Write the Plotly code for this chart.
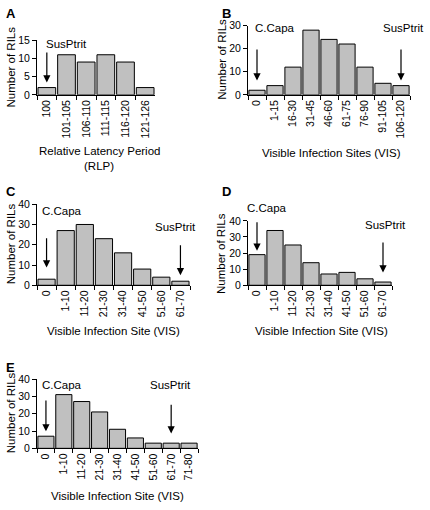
import plotly.graph_objects as go

W, H = 430, 510

# ---- data ----
a_cats = ["100", "101-105", "106-110", "111-115", "116-120", "121-126"]
a_vals = [2, 11, 9, 11, 9, 2]

b_cats = ["0", "1-15", "16-30", "31-45", "46-60", "61-75", "76-90", "91-105", "106-120"]
b_vals = [2, 4, 12, 28, 24, 22, 12, 5, 4]

c_cats = ["0", "1-10", "11-20", "21-30", "31-40", "41-50", "51-60", "61-70"]
c_vals = [3, 27, 30, 23, 16, 8, 4, 2]

d_cats = ["0", "1-10", "11-20", "21-30", "31-40", "41-50", "51-60", "61-70"]
d_vals = [19, 34, 25, 14, 7, 8, 4, 2]

e_cats = ["0", "1-10", "11-20", "21-30", "31-40", "41-50", "51-60", "61-70", "71-80"]
e_vals = [7, 31, 27, 21, 11, 6, 3, 3, 3]

FONT = "Liberation Sans, Arial, sans-serif"

def px(x):
    return x / W

def py(y):
    return 1 - y / H

panels = [
    dict(cats=a_cats, vals=a_vals, xd=(37, 155), yd=(35, 91), ymax=15, dtick=5,
         letter=("A", 4, 8), xt=["Relative Latency Period", "(RLP)"], xtp=(99, 148),
         yt=(11, 63),
         texts=[("SusPtrit", 66, 39)],
         arrows=[(0, 3.4, 12.0)]),
    dict(cats=b_cats, vals=b_vals, xd=(248, 410), yd=(20, 91), ymax=30, dtick=10,
         letter=("B", 220, 8), xt=["Visible Infection Sites (VIS)"], xtp=(331, 151),
         yt=(222, 55),
         texts=[("C.Capa", 275, 23), ("SusPtrit", 403, 23)],
         arrows=[(0, 6.2, 20.3), (8, 6.2, 20.3)]),
    dict(cats=c_cats, vals=c_vals, xd=(37, 190), yd=(203, 286), ymax=40, dtick=10,
         letter=("C", 4, 190), xt=["Visible Infection Site (VIS)"], xtp=(114, 333),
         yt=(11, 244),
         texts=[("C.Capa", 62, 210), ("SusPtrit", 175, 226)],
         arrows=[(0, 8.8, 24.0), (7, 5.0, 20.5)]),
    dict(cats=d_cats, vals=d_vals, xd=(248, 392), yd=(220, 286), ymax=40, dtick=10,
         letter=("D", 220, 190), xt=["Visible Infection Site (VIS)"], xtp=(321, 333),
         yt=(221, 253),
         texts=[("C.Capa", 267, 207), ("SusPtrit", 385, 224)],
         arrows=[(0, 21.5, 40.0), (7, 8.0, 27.5)]),
    dict(cats=e_cats, vals=e_vals, xd=(37, 198), yd=(382, 453), ymax=40, dtick=10,
         letter=("E", 4, 370), xt=["Visible Infection Site (VIS)"], xtp=(117, 502),
         yt=(11, 417),
         texts=[("C.Capa", 62, 388), ("SusPtrit", 170, 388)],
         arrows=[(0, 9.8, 28.5), (7, 8.6, 26.0)]),
]

fig = go.Figure()
annotations = []

def txt(t, x, y, size=11.5, angle=0, bold=False, anchor="center"):
    return dict(text=("<b>%s</b>" % t) if bold else t, x=px(x), y=py(y),
                xref="paper", yref="paper", xanchor=anchor, yanchor="middle",
                textangle=angle, showarrow=False,
                font=dict(family=FONT, size=size, color="black"))

for i, p in enumerate(panels):
    k = "" if i == 0 else str(i + 1)
    xa, ya = "x" + k, "y" + k
    fig.add_trace(go.Bar(
        x=p["cats"], y=p["vals"], xaxis=xa, yaxis=ya,
        marker=dict(color="#c0c0c0", line=dict(color="black", width=1)),
        showlegend=False, hoverinfo="x+y"))
    n = len(p["cats"])
    fig.layout["xaxis" + k] = dict(
        domain=[px(p["xd"][0]), px(p["xd"][1])], anchor=ya,
        type="category", range=[-0.5, n - 0.5],
        showline=True, linecolor="black", linewidth=1,
        ticks="outside", tickson="boundaries", ticklen=4, tickcolor="black",
        tickangle=-90, tickfont=dict(family=FONT, size=10.5, color="black"),
        showgrid=False, zeroline=False, fixedrange=True)
    fig.layout["yaxis" + k] = dict(
        domain=[py(p["yd"][1]), py(p["yd"][0])], anchor=xa,
        range=[0, p["ymax"]], dtick=p["dtick"],
        showline=True, linecolor="black", linewidth=1,
        ticks="outside", ticklen=4, tickcolor="black",
        tickfont=dict(family=FONT, size=10.5, color="black"),
        showgrid=False, zeroline=False, fixedrange=True)
    L, lx, ly = p["letter"]
    annotations.append(txt(L, lx, ly, size=13, bold=True, anchor="left"))
    tx, ty = p["xtp"]
    for j, line in enumerate(p["xt"]):
        annotations.append(txt(line, tx, ty + 16 * j))
    yx, yy = p["yt"]
    annotations.append(txt("Number of RILs", yx, yy, angle=-90))
    for t, x, y in p["texts"]:
        annotations.append(txt(t, x, y))
    for c, yh, yt in p["arrows"]:
        annotations.append(dict(text="", x=c, y=yh, ax=c, ay=yt, xref=xa, yref=ya,
                                axref=xa, ayref=ya, showarrow=True, arrowhead=2,
                                arrowsize=1.2, arrowwidth=1.2, arrowcolor="black"))

fig.update_layout(
    width=W, height=H, margin=dict(l=0, r=0, t=0, b=0),
    paper_bgcolor="white", plot_bgcolor="white",
    bargap=0.1, annotations=annotations,
    font=dict(family=FONT, color="black"))

fig.write_html("out.html", config={"displayModeBar": False},
               post_script="document.body.style.margin='0';")
